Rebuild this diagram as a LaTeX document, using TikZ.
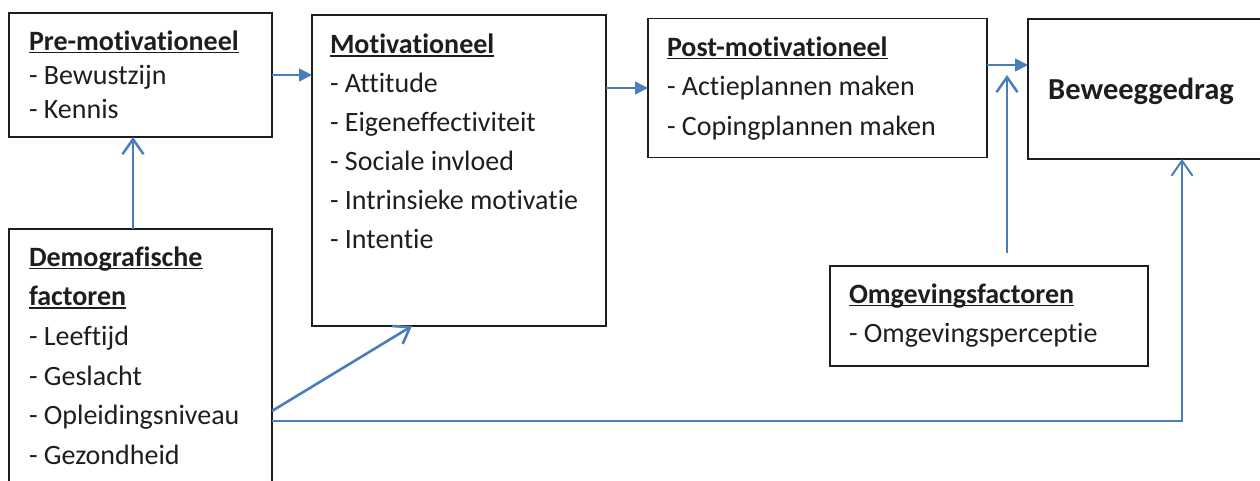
\documentclass[tikz,border=0pt]{standalone}
\usepackage{fontspec}
\setmainfont{Carlito}[Ligatures={NoCommon}]
\usetikzlibrary{arrows.meta,calc}
\definecolor{linkblue}{HTML}{4A7EBB}
\definecolor{ink}{HTML}{1E1E1E}
% bold heading with a rule just below the baseline
\newcommand\boxhead[1]{\setbox0\hbox{\bfseries #1}\rlap{\rule[-3.2pt]{\wd0}{1.5pt}}\box0}
% fixes the distance from the top of a text block to its first baseline
\newcommand\firstline{\rule{0pt}{24pt}}
\begin{document}
\begin{tikzpicture}[x=1pt,y=-1pt,
  frame/.style={draw=ink,line width=1.3pt,inner sep=0pt,outer sep=0pt,rectangle},
  body/.style={anchor=north west,inner sep=0pt,outer sep=0pt,align=left,text=ink},
  thinlink/.style={draw=linkblue,line width=1.6pt,-{Triangle[length=13pt,width=13pt]}},
  thicklink/.style={draw=linkblue,line width=2.5pt,-{Straight Barb[length=15pt,width=21pt]}}]
\useasboundingbox (0,0) rectangle (1260,480);
\clip (0,0) rectangle (1260,480);

% boxes
\node[frame,minimum width=263pt,minimum height=124pt] (pre) at (140.5,75) {};
\node[frame,minimum width=294pt,minimum height=311pt] (mot) at (459,170.5) {};
\node[frame,minimum width=339pt,minimum height=139pt] (post) at (817.5,88) {};
\node[frame,minimum width=247pt,minimum height=140pt] (beweeg) at (1151.5,89) {};
\node[frame,minimum width=263pt,minimum height=271pt] (demo) at (140.5,364.5) {};
\node[frame,minimum width=318pt,minimum height=100pt] (omg) at (989,316) {};

% box texts
\node[body,font=\fontsize{28}{34}\selectfont] (pretext) at (29,26)
  {\firstline\boxhead{Pre-motivationeel}\\- Bewustzijn\\- Kennis};
\node[body,font=\fontsize{28}{39}\selectfont] (mottext) at (330,29.5)
  {\firstline\boxhead{Motivationeel}\\- Attitude\\- Eigeneffectiviteit\\- Sociale invloed\\- Intrinsieke motivatie\\- Intentie};
\node[body,font=\fontsize{28}{39.5}\selectfont] (posttext) at (667,32)
  {\firstline\boxhead{Post-motivationeel}\\- Actieplannen maken\\- Copingplannen maken};
\node[body,font=\fontsize{28}{39.7}\selectfont] (demotext) at (29,242)
  {\firstline\boxhead{Demografische}\\\boxhead{factoren}\\- Leeftijd\\- Geslacht\\- Opleidingsniveau\\- Gezondheid};
\node[body,font=\fontsize{28}{39}\selectfont] (omgtext) at (849,279)
  {\firstline\boxhead{Omgevingsfactoren}\\- Omgevingsperceptie};
\node[anchor=base west,inner sep=0pt,text=ink,font=\fontsize{30.5}{36}\selectfont\bfseries] (beweegtext) at (1048,99) {Beweeggedrag};

% connector end points
\coordinate (pb) at ($(post.east)+(0,-23)$);
\coordinate (da) at ($(demo.north)+(-7.5,0)$);
\coordinate (dm) at ($(demo.east)+(0,46.5)$);
\coordinate (ms) at ($(mot.south)+(-47,0)$);
\coordinate (db) at ($(demo.east)+(0,56.5)$);
\coordinate (bs) at ($(beweeg.south)+(30.5,0)$);
\coordinate (og) at ($(omg.north)+(18,-13)$);
\coordinate (ot) at ($(pb)+(20,10)$);

% connectors
\draw[thinlink] (pre.east) -- (pre.east -| mot.west);
\draw[thinlink] (post.west -| mot.east) -- (post.west);
\draw[thinlink] (pb) -- (pb -| beweeg.west);
\draw[thicklink] (da) -- (da |- pre.south);
\draw[thicklink,line width=2.6pt] (dm) -- (ms);
\draw[thicklink,line width=2pt] (db) -| (bs);
\draw[thicklink] (og) -- (ot);
\end{tikzpicture}
\end{document}
